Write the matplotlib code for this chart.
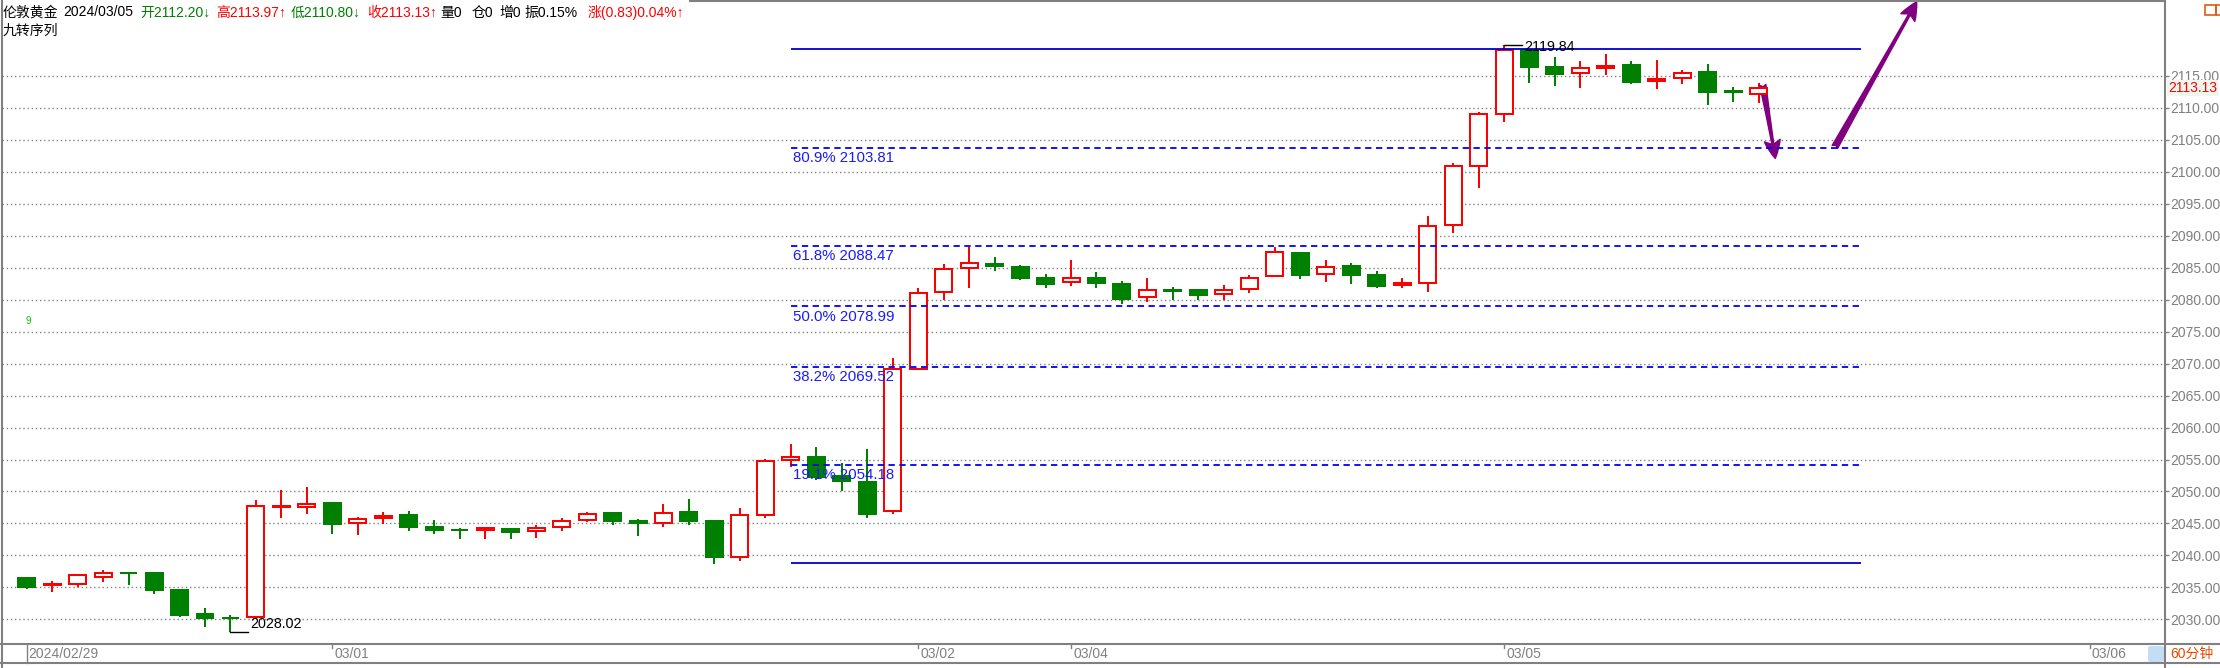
import matplotlib
matplotlib.use('Agg')
import matplotlib.pyplot as plt
from matplotlib.patches import Rectangle, FancyBboxPatch
from matplotlib.lines import Line2D
from matplotlib.transforms import blended_transform_factory, offset_copy

plt.rcParams['font.family'] = ['Liberation Sans', 'Noto Sans CJK SC', 'DejaVu Sans']

W, H = 2220, 668

# 60-minute bars, London gold, 2024/02/29 .. 2024/03/05
opens = [2036.46, 2035.32, 2035.58, 2036.67, 2037.30, 2037.25, 2034.59, 2030.83, 2030.20, 2030.31,
         2047.62, 2047.62, 2048.20, 2045.02, 2045.80, 2046.32, 2044.44, 2043.96, 2043.92, 2044.13,
         2043.77, 2044.39, 2045.49, 2046.63, 2045.38, 2045.02, 2046.79, 2045.38, 2039.70, 2046.27,
         2054.87, 2055.39, 2052.42, 2051.54, 2046.90, 2069.16, 2081.15, 2084.91, 2085.53, 2085.12,
         2083.40, 2082.82, 2083.40, 2082.46, 2080.37, 2081.50, 2081.52, 2080.84, 2081.62, 2083.66,
         2087.31, 2083.97, 2085.28, 2083.87, 2082.25, 2082.56, 2091.64, 2100.87, 2109.00, 2119.07,
         2116.41, 2115.42, 2116.30, 2116.72, 2114.27, 2114.64, 2115.63, 2112.60, 2112.20]
highs = [2036.67, 2036.00, 2037.09, 2037.71, 2037.45, 2037.45, 2034.74, 2031.77, 2030.62, 2048.67,
         2050.23, 2050.70, 2048.35, 2046.01, 2046.79, 2046.95, 2045.54, 2044.29, 2044.23, 2044.29,
         2044.76, 2045.85, 2046.79, 2046.63, 2045.69, 2048.04, 2048.82, 2045.54, 2047.42, 2055.08,
         2057.43, 2056.91, 2054.51, 2056.65, 2070.83, 2081.78, 2085.59, 2088.25, 2086.68, 2085.43,
         2084.02, 2086.21, 2084.33, 2082.93, 2083.40, 2081.99, 2081.52, 2082.30, 2083.87, 2088.25,
         2087.46, 2086.21, 2085.69, 2084.49, 2083.40, 2093.10, 2101.44, 2109.32, 2119.84, 2119.10,
         2117.97, 2117.35, 2118.44, 2117.35, 2117.50, 2115.94, 2116.88, 2113.23, 2113.97]
lows = [2034.74, 2034.30, 2035.00, 2035.84, 2035.37, 2033.96, 2030.36, 2028.85, 2028.02, 2030.00,
        2045.90, 2046.53, 2043.35, 2043.19, 2044.97, 2043.87, 2043.35, 2042.57, 2042.57, 2042.57,
        2042.72, 2043.87, 2045.23, 2044.81, 2043.09, 2044.49, 2044.81, 2038.71, 2039.18, 2045.90,
        2053.78, 2051.80, 2050.02, 2045.85, 2046.50, 2069.00, 2079.90, 2081.88, 2084.54, 2083.08,
        2081.88, 2082.20, 2081.88, 2079.38, 2079.69, 2079.95, 2079.95, 2079.95, 2081.05, 2083.66,
        2083.24, 2082.77, 2082.46, 2081.88, 2081.88, 2081.26, 2090.49, 2097.53, 2107.85, 2113.96,
        2113.49, 2113.17, 2115.21, 2113.80, 2113.02, 2113.80, 2110.52, 2110.99, 2110.80]
closes = [2035.06, 2035.52, 2036.88, 2037.19, 2037.22, 2034.59, 2030.68, 2030.21, 2030.14, 2047.68,
          2047.70, 2047.99, 2044.97, 2045.64, 2046.16, 2044.49, 2044.03, 2043.90, 2044.23, 2043.71,
          2044.23, 2045.33, 2046.42, 2045.43, 2045.12, 2046.58, 2045.43, 2039.80, 2046.27, 2054.77,
          2055.34, 2052.32, 2051.69, 2046.50, 2069.16, 2081.00, 2084.75, 2085.69, 2085.33, 2083.45,
          2082.51, 2083.34, 2082.67, 2080.16, 2081.47, 2081.44, 2080.79, 2081.47, 2083.34, 2087.41,
          2083.92, 2085.07, 2083.92, 2082.20, 2082.56, 2091.48, 2100.87, 2109.00, 2119.07, 2116.46,
          2115.37, 2116.20, 2116.51, 2114.11, 2114.48, 2115.42, 2112.55, 2112.50, 2113.13]

date_idx = [0, 12, 35, 41, 58, 81]
date_labels = ['2024/02/29', '03/01', '03/02', '03/04', '03/05', '03/06']

fib_pcts = ['19.1%', '38.2%', '50.0%', '61.8%', '80.9%']
fib_vals = [2054.18, 2069.52, 2078.99, 2088.47, 2103.81]
fib_edges = [2038.82, 2119.16]
fib_from, fib_to = 30, 72

low_idx, low_val = 8, 2028.02
high_idx, high_val = 58, 2119.84
last_close = 2113.13
nine_idx, nine_val = 0, 2076.7

arrow_down = [(68.16, 2113.6), (68.65, 2102.1)]
arrow_up = [(70.99, 2103.9), (74.2, 2126.6)]

header_parts = [('伦敦黄金', 'black'), ('2024/03/05', 'black'), ('开2112.20↓', 'green'),
                ('高2113.97↑', 'red'), ('低2110.80↓', 'green'), ('收2113.13↑', 'red'),
                ('量0', 'black'), ('仓0', 'black'), ('增0', 'black'), ('振0.15%', 'black'),
                ('涨(0.83)0.04%↑', 'red')]
header_x = [3, 63, 140, 216, 291, 367, 440, 472, 499, 524, 588]

RED = '#ff0000'
GREEN = '#008000'
GRAY = '#808080'


def fx(px):
    return px / W


def fy(py):
    return 1 - py / H


fig = plt.figure(figsize=(W / 100, H / 100), dpi=100)
ax = fig.add_axes([fx(2), fy(644), fx(2165) - fx(2), fy(1) - fy(644)])
ax.set_xlim(-0.97, 83.95)
ax.set_ylim(2026.14, 2126.73)
for s in ax.spines.values():
    s.set_visible(False)

# grid + right price axis
ax.set_yticks(range(2030, 2116, 5))
ax.set_yticklabels(['%.2f' % v for v in range(2030, 2116, 5)])
ax.yaxis.tick_right()
ax.tick_params(axis='y', colors=GRAY, length=3, width=1, pad=1, labelsize=10)
ax.set_xticks([])
ax.grid(axis='y', color=GRAY, linestyle=(0, (1, 2)), lw=1)

# candles
bw = 0.667
lw = 1.44
for i, (o, h, l, c) in enumerate(zip(opens, highs, lows, closes)):
    top, bot = max(o, c), min(o, c)
    if c >= o:
        ax.vlines(i, top, h, color=RED, lw=lw, zorder=3)
        ax.vlines(i, l, bot, color=RED, lw=lw, zorder=3)
        ax.add_patch(Rectangle((i - bw / 2, bot), bw, top - bot, fc='white', ec=RED, lw=lw, zorder=4))
    else:
        ax.vlines(i, l, h, color=GREEN, lw=lw, zorder=3)
        ax.add_patch(Rectangle((i - bw / 2, bot), bw, top - bot, fc=GREEN, ec=GREEN, lw=lw, zorder=4))

# golden-section lines (drawn over the bars)
ax.hlines(fib_edges, fib_from, fib_to, color='#0000cc', lw=1.3, zorder=5)
ax.hlines(fib_vals, fib_from, fib_to, color='#0000ff', lw=1.3, linestyle=(0, (3.5, 2.5)), zorder=5)
for p, v in zip(fib_pcts, fib_vals):
    ax.annotate('%s %.2f' % (p, v), (fib_from, v), xytext=(1.5, -2.5), textcoords='offset points',
                ha='left', va='top', color='#1a1aff', fontsize=10.8, zorder=6)

# extreme marks
ax.plot([low_idx, low_idx + 0.7], [low_val, low_val], color='black', lw=1, zorder=5)
ax.annotate('%.2f' % low_val, (low_idx + 0.78, low_val), xytext=(0, 6), textcoords='offset points',
            ha='left', va='center', fontsize=10.3, color='black', zorder=6)
ax.plot([high_idx, high_idx + 0.7], [high_val, high_val], color='black', lw=1, zorder=5)
ax.annotate('%.2f' % high_val, (high_idx + 0.78, high_val), xytext=(0, -1.5), textcoords='offset points',
            ha='left', va='center', fontsize=10.3, color='black', zorder=6)

# TD count
ax.text(nine_idx + 0.05, nine_val, '9', color='#00c800', fontsize=7, ha='center', va='center')

# hand-drawn arrows
for (x0, y0), (x1, y1) in [arrow_down, arrow_up]:
    ax.annotate('', xy=(x1, y1), xytext=(x0, y0), annotation_clip=False,
                arrowprops=dict(arrowstyle='fancy,head_length=1.3,head_width=1.15,tail_width=0.45',
                                color='#800080', mutation_scale=10, shrinkA=0, shrinkB=0))

# last price on the axis
bt = blended_transform_factory(ax.transAxes, ax.transData)
ax.text(1.0, last_close, '%.2f' % last_close, transform=offset_copy(bt, fig, x=3, units='dots'),
        color=RED, fontsize=10, ha='left', va='center', clip_on=False,
        bbox=dict(boxstyle='square,pad=0.1', fc='#eef6ee', ec='none'))

# frame lines
frame = [([2, 2], [0, 668]), ([2165, 2165], [0, 668]), ([0, 2220], [644, 644]),
         ([0, 2220], [663, 663]), ([690, 2165], [1, 1])]
for xs, ys in frame:
    fig.add_artist(Line2D([fx(v) for v in xs], [fy(v) for v in ys], color=GRAY, lw=1.5))

# date row
dt = blended_transform_factory(ax.transData, fig.transFigure)
for k, (i, lab) in enumerate(zip(date_idx, date_labels)):
    y_end = 663 if k == 0 else 648
    fig.add_artist(Line2D([i, i], [fy(644), fy(y_end)], transform=dt, color=GRAY, lw=1))
    fig.text(i, fy(654), lab, transform=offset_copy(dt, fig, x=2, units='dots'),
             color=GRAY, fontsize=10, ha='left', va='center')

fig.add_artist(FancyBboxPatch((fx(2148), fy(662)), fx(16), 16 / H, boxstyle='round,pad=0,rounding_size=0.002',
                              transform=fig.transFigure, fc='#c5dcf5', ec='none'))
fig.text(fx(2170), fy(654), '60分钟', color='#e84800', fontsize=10, ha='left', va='center')

# top-right widget
fig.add_artist(Rectangle((fx(2204.5), fy(14.5)), fx(11), 9.5 / H, transform=fig.transFigure,
                         fc='none', ec='#e05a10', lw=1.2))
fig.add_artist(Rectangle((fx(2215.5), fy(14.5)), fx(6), 9.5 / H, transform=fig.transFigure,
                         fc='none', ec='#e05a10', lw=1.2))

# header
for (txt, col), px in zip(header_parts, header_x):
    fig.text(fx(px), fy(12.5), txt, color=col, fontsize=10, ha='left', va='center')
fig.text(fx(3), fy(31), '九转序列', color='black', fontsize=10, ha='left', va='center')

fig.savefig('out.png', dpi=100)
